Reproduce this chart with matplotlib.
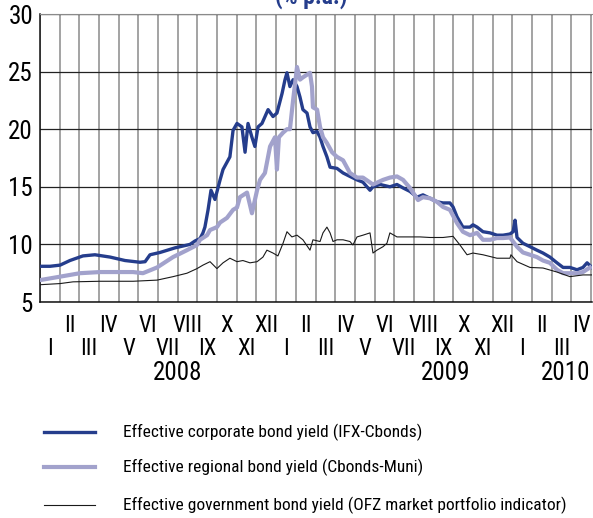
import matplotlib
matplotlib.use('Agg')
import matplotlib.pyplot as plt
import matplotlib.font_manager as fm
from matplotlib.lines import Line2D

# x = months since 1 Jan 2008
corp_x = [0.00, 0.51, 1.02, 1.52, 2.18, 2.79, 3.56, 4.32, 5.08, 5.34, 5.59, 6.10, 6.86, 7.62,
          7.88, 8.13, 8.28, 8.38, 8.54, 8.69, 8.89, 9.15, 9.30, 9.65, 9.81, 10.01, 10.26, 10.42,
          10.57, 10.77, 10.92, 11.08, 11.28, 11.59, 11.84, 12.04, 12.30, 12.45, 12.55, 12.70,
          12.86, 13.06, 13.21, 13.36, 13.57, 13.72, 13.87, 14.08, 14.23, 14.38, 14.58, 14.74,
          15.09, 15.40, 15.75, 16.11, 16.41, 16.77, 16.92, 17.28, 17.78, 18.14, 18.45, 18.80,
          19.16, 19.46, 19.82, 20.17, 20.48, 20.83, 20.99, 21.19, 21.49, 21.85, 22.00, 22.21,
          22.51, 22.87, 23.22, 23.53, 23.88, 24.04, 24.14, 24.24, 24.54, 24.90, 25.25, 25.56,
          25.91, 26.27, 26.58, 26.93, 27.29, 27.59, 27.80, 28.05]
corp_y = [8.1, 8.1, 8.2, 8.6, 9.0, 9.1, 8.9, 8.6, 8.45, 8.5, 9.1, 9.3, 9.7, 10.0,
          10.3, 10.5, 11.0, 11.5, 13.0, 14.7, 13.9, 15.6, 16.5, 17.6, 19.9, 20.5, 20.2, 18.0,
          20.5, 19.3, 18.5, 20.2, 20.5, 21.7, 21.1, 21.4, 23.1, 24.3, 24.9, 23.7,
          24.3, 23.7, 22.8, 21.7, 21.4, 20.2, 19.7, 19.8, 19.3, 18.5, 17.6, 16.7,
          16.6, 16.2, 15.9, 15.6, 15.4, 14.7, 15.0, 15.2, 15.0, 15.2, 14.9, 14.6,
          14.1, 14.3, 14.0, 13.7, 13.6, 13.6, 13.25, 12.4, 11.5, 11.5, 11.7, 11.5,
          11.1, 11.0, 10.8, 10.8, 10.9, 11.1, 12.1, 10.6, 10.1, 9.8, 9.5, 9.25,
          8.9, 8.4, 8.0, 8.0, 7.8, 8.0, 8.4, 8.0]

muni_x = [0.00, 1.02, 2.03, 3.05, 4.73, 5.23, 5.95, 6.76, 7.47, 7.98, 8.13, 8.49, 8.64, 8.99,
          9.15, 9.50, 9.81, 10.01, 10.16, 10.52, 10.77, 11.03, 11.18, 11.43, 11.69, 11.94,
          12.04, 12.14, 12.35, 12.55, 12.70, 12.86, 13.06, 13.21, 13.36, 13.72, 13.82, 13.87,
          14.08, 14.23, 14.38, 14.58, 14.84, 15.09, 15.40, 15.75, 16.11, 16.41, 16.92, 17.43,
          17.78, 18.14, 18.45, 18.80, 19.21, 19.46, 19.82, 20.17, 20.48, 20.83, 21.19, 21.49,
          21.85, 22.21, 22.51, 22.87, 23.22, 23.53, 23.88, 24.24, 24.54, 24.90, 25.25, 25.56,
          25.91, 26.27, 26.58, 26.93, 27.29, 27.59, 27.95]
muni_y = [6.9, 7.2, 7.5, 7.6, 7.6, 7.5, 8.0, 8.9, 9.5, 9.95, 10.4, 10.8, 11.25, 11.5,
          11.9, 12.3, 13.0, 13.2, 14.1, 14.5, 12.7, 14.7, 15.6, 16.2, 18.5, 19.3,
          16.5, 19.3, 19.7, 20.0, 20.0, 22.5, 25.4, 24.3, 24.5, 24.9, 23.7, 21.9,
          21.7, 20.2, 19.3, 18.8, 18.0, 17.6, 17.3, 16.2, 15.8, 15.8, 15.2, 15.6,
          15.8, 15.9, 15.6, 14.9, 13.85, 14.1, 14.0, 13.7, 13.25, 13.0, 11.85, 11.1,
          10.8, 11.0, 10.4, 10.4, 10.55, 10.55, 10.6, 9.8, 9.3, 9.1, 8.9, 8.6,
          8.4, 7.8, 7.5, 7.5, 7.5, 7.6, 8.0]

ofz_x = [0.00, 1.02, 1.68, 3.05, 4.73, 5.95, 6.76, 7.47, 7.98, 8.28, 8.64, 8.99, 9.30, 9.65,
         10.01, 10.31, 10.67, 11.03, 11.33, 11.53, 11.84, 12.09, 12.35, 12.55, 12.80, 13.06,
         13.36, 13.72, 13.87, 14.23, 14.38, 14.58, 14.74, 14.89, 15.09, 15.40, 15.75, 15.90,
         16.11, 16.41, 16.77, 16.92, 17.12, 17.43, 17.63, 17.78, 18.14, 18.80, 19.31, 19.82,
         20.48, 20.99, 21.34, 21.70, 22.00, 22.51, 23.22, 23.88, 23.93, 24.24, 24.90, 25.56,
         26.27, 26.93, 27.59, 28.05]
ofz_y = [6.5, 6.6, 6.75, 6.8, 6.8, 6.9, 7.2, 7.5, 7.9, 8.2, 8.5, 7.9, 8.4, 8.8,
         8.5, 8.6, 8.4, 8.5, 8.9, 9.5, 9.25, 9.0, 10.1, 11.1, 10.65, 10.8,
         10.4, 9.5, 10.4, 10.25, 11.0, 11.5, 11.0, 10.25, 10.4, 10.4, 10.25, 9.95,
         10.65, 10.8, 11.0, 9.25, 9.5, 9.8, 10.1, 11.0, 10.65, 10.65, 10.65, 10.6,
         10.6, 10.7, 9.95, 9.1, 9.25, 9.1, 8.8, 8.8, 9.1, 8.5, 8.0, 7.95,
         7.6, 7.2, 7.35, 7.35]

roman = ['I', 'II', 'III', 'IV', 'V', 'VI', 'VII', 'VIII', 'IX', 'X', 'XI', 'XII']
years = ['2008', '2009', '2010']
year_pos = [7.0, 20.6, 26.7]
labels = ['Effective corporate bond yield (IFX-Cbonds)',
          'Effective regional bond yield (Cbonds-Muni)',
          'Effective government bond yield (OFZ market portfolio indicator)']

navy = '#253d8c'
lilac = '#a2a2cc'


# the original uses a narrow typeface; take a condensed one if there is any
def pick_font():
    entries = fm.fontManager.ttflist
    for want in ['Liberation Sans Narrow', 'Roboto Condensed', 'Noto Sans Condensed',
                 'Open Sans Condensed', 'DejaVu Sans Condensed']:
        for f in entries:
            if f.name == want and f.style == 'normal':
                return f.name, f.stretch
    for fam in ['DejaVu Sans', 'Noto Sans', 'Roboto', 'Open Sans', 'Liberation Sans']:
        for f in entries:
            if f.name == fam and 'condensed' in str(f.stretch) and f.style == 'normal':
                return f.name, f.stretch
    return 'Liberation Sans', 'normal'


fam, stretch = pick_font()
plt.rcParams['font.family'] = [fam, 'DejaVu Sans']
plt.rcParams['font.stretch'] = stretch

fig = plt.figure(figsize=(5.93, 5.18), dpi=100)
ax = fig.add_axes([40 / 593, 1 - 302 / 518, 552 / 593, 288 / 518])

ax.plot(corp_x, corp_y, color=navy, lw=2.4, zorder=3)
ax.plot(muni_x, muni_y, color=lilac, lw=3.0, zorder=4)
ax.plot(ofz_x, ofz_y, color='#1a1a1a', lw=0.8, zorder=5)

ax.set_xlim(0, 28.05)
ax.set_ylim(5, 30)
ax.set_xticks(range(29))
ax.set_yticks([5, 10, 15, 20, 25, 30])
ax.set_xticklabels([])
ax.tick_params(length=0, labelsize=18, pad=5)
ax.xaxis.grid(True, color='#8a8a8a', lw=1.1)
ax.yaxis.grid(True, color='#222222', lw=0.9)
ax.set_axisbelow(True)
for s in ['left', 'bottom']:
    ax.spines[s].set_color('#111111')
    ax.spines[s].set_linewidth(1.1)
ax.spines['top'].set_color('#8a8a8a')
ax.spines['right'].set_visible(False)

tr = ax.get_xaxis_transform()
for m in range(28):
    name = roman[m % 12]
    ypos = -0.080 if m % 2 == 1 else -0.160
    ax.text(m + 0.5, ypos, name, transform=tr, ha='center', va='center', fontsize=16.5)
for yr, xp in zip(years, year_pos):
    ax.text(xp, -0.247, yr, transform=tr, ha='center', va='center', fontsize=18)

# title sits mostly above the picture edge, as in the original
fig.text(311 / 593, 1 - 4 / 518, '(% p.a.)', color=navy, fontsize=17, fontweight='bold',
         ha='center', va='baseline')

# legend drawn by hand
leg_y = [432, 467, 505]
leg_style = [(navy, 2.4), (lilac, 3.0), ('#1a1a1a', 0.8)]
leg_texts = []
for yy, (c, w), lab in zip(leg_y, leg_style, labels):
    yf = 1 - yy / 518
    fig.add_artist(Line2D([44 / 593, 95 / 593], [yf, yf], color=c, lw=w))
    leg_texts.append(fig.text(123 / 593, yf, lab, fontsize=15, va='center', ha='left'))

# keep the longest label within the same width as in the original (123..565 px)
fig.canvas.draw()
wide = leg_texts[2].get_window_extent().width
size = min(15, 15 * 442 / wide)
for t in leg_texts:
    t.set_fontsize(size)

fig.savefig('out.png', dpi=100)
